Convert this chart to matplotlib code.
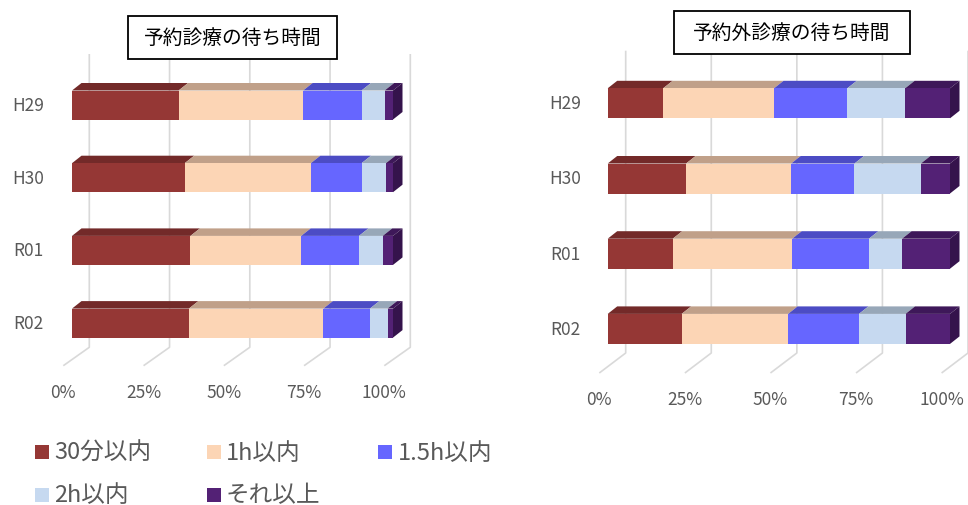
import matplotlib
matplotlib.use('Agg')
import matplotlib.pyplot as plt
from matplotlib.patches import Polygon, Rectangle
import numpy as np

plt.rcParams['font.family'] = ['Noto Sans CJK JP', 'DejaVu Sans']

# ---------------- data ----------------
categories = ['H29', 'H30', 'R01', 'R02']
series_names = ['30分以内', '1h以内', '1.5h以内', '2h以内', 'それ以上']
tick_values = [0, 25, 50, 75, 100]
tick_labels = ['0%', '25%', '50%', '75%', '100%']

# 予約診療 (reserved)
res_30min = [33.2, 35.1, 36.9, 36.4]
res_1h = [38.8, 39.3, 34.5, 41.9]
res_15h = [18.2, 15.8, 18.0, 14.5]
res_2h = [7.2, 7.6, 7.4, 5.5]
res_more = [2.6, 2.2, 3.2, 1.7]

# 予約外診療 (walk-in)
unres_30min = [16.2, 22.9, 19.0, 21.6]
unres_1h = [32.4, 30.7, 34.9, 31.1]
unres_15h = [21.4, 18.5, 22.4, 20.7]
unres_2h = [16.9, 19.4, 9.7, 13.6]
unres_more = [13.1, 8.5, 14.0, 13.0]

title_left = '予約診療の待ち時間'
title_right = '予約外診療の待ち時間'

# ---------------- style ----------------
front_colors = ['#953735', '#FCD5B5', '#6666FF', '#C6D9F0', '#532175']
top_colors = ['#732A29', '#C0A089', '#4C4CC4', '#97A7B8', '#3E1859']
side_color = '#35134C'
grid_color = '#D9D9D9'
text_color = '#595959'

W, H = 968, 506
fig = plt.figure(figsize=(W / 100, H / 100), dpi=100)


def draw_chart(series, ax_px, front0, ppp, yc0, ystep, bar_px, grid_off,
               floor_off, grid_top, grid_vbot, floor_y, label_y, cat_right,
               title, title_box, depth=(9.5, 7.5)):
    x0p, x1p, y0p, y1p = ax_px
    ax = fig.add_axes([x0p / W, 1 - y1p / H, (x1p - x0p) / W, (y1p - y0p) / H])
    ax.set_xlim((x0p - front0) / ppp, (x1p - front0) / ppp)
    ax.set_ylim((y1p - yc0) / ystep, (y0p - yc0) / ystep)
    ax.axis('off')

    def ypx(p):
        return (p - yc0) / ystep

    # gridlines (back wall + floor)
    for v, lab in zip(tick_values, tick_labels):
        xb = v + grid_off / ppp
        xf = v - floor_off / ppp
        ax.plot([xb, xb, xf], [ypx(grid_top), ypx(grid_vbot), ypx(floor_y)],
                color=grid_color, lw=1.2, zorder=1, clip_on=False,
                solid_capstyle='butt')
        ax.text(xf, ypx(label_y), lab, ha='center', va='center',
                fontsize=12.5, color=text_color)

    h = bar_px / ystep
    ddx = depth[0] / ppp
    ddy = depth[1] / ystep
    y = np.arange(len(categories))
    vals = np.array(series, dtype=float)
    vals = vals / vals.sum(axis=0) * 100
    left = np.zeros(len(categories))
    for k in range(len(series)):
        ax.barh(y, vals[k], left=left, height=h, color=front_colors[k],
                linewidth=0, zorder=3)
        for i in range(len(categories)):
            xa, xb_ = left[i], left[i] + vals[k][i]
            yt = y[i] - h / 2
            ax.add_patch(Polygon([(xa, yt), (xb_, yt), (xb_ + ddx, yt - ddy),
                                  (xa + ddx, yt - ddy)], closed=True,
                                 facecolor=top_colors[k], linewidth=0,
                                 zorder=2))
        left = left + vals[k]
    for i in range(len(categories)):
        xe = left[i]
        yt = y[i] - h / 2
        yb = y[i] + h / 2
        ax.add_patch(Polygon([(xe, yt), (xe + ddx, yt - ddy),
                              (xe + ddx, yb - ddy), (xe, yb)], closed=True,
                             facecolor=side_color, linewidth=0, zorder=2))
        ax.text((cat_right - front0) / ppp, y[i], categories[i], ha='right',
                va='center', fontsize=12.5, color=text_color)

    # title box
    bx0, by0, bx1, by1 = title_box
    fig.add_artist(Rectangle((bx0 / W, 1 - by1 / H), (bx1 - bx0) / W,
                             (by1 - by0) / H, transform=fig.transFigure,
                             facecolor='white', edgecolor='black', lw=1.3,
                             zorder=5))
    fig.text((bx0 + bx1) / 2 / W, 1 - (by0 + by1) / 2 / H, title,
             ha='center', va='center', fontsize=14.2, color='black', zorder=6)
    return ax


draw_chart([res_30min, res_1h, res_15h, res_2h, res_more],
           ax_px=(0, 484, 0, 420), front0=72, ppp=3.21, yc0=106, ystep=72.7,
           bar_px=29, grid_off=17.3, floor_off=8.7, grid_top=55,
           grid_vbot=348.3, floor_y=366.7, label_y=392.7, cat_right=44,
           title=title_left, title_box=(128.3, 17.3, 336.7, 60))

draw_chart([unres_30min, unres_1h, unres_15h, unres_2h, unres_more],
           ax_px=(484, 968, 0, 420), front0=607.7, ppp=3.423, yc0=104.3,
           ystep=75.2, bar_px=30, grid_off=18, floor_off=8.4, grid_top=51.7,
           grid_vbot=354, floor_y=374, label_y=400, cat_right=581,
           title=title_right, title_box=(674, 11.7, 910, 55))

# legend
leg_pos = [(35, 453.3), (206.7, 453.3), (378.3, 453.3), (35, 496), (206.7, 496)]
sq = 14
for (lx, ly), name, col in zip(leg_pos, series_names, front_colors):
    fig.add_artist(Rectangle((lx / W, 1 - (ly + sq / 2) / H), sq / W, sq / H,
                             transform=fig.transFigure, facecolor=col,
                             linewidth=0))
    fig.text((lx + 19.3) / W, 1 - ly / H, name, ha='left', va='center',
             fontsize=17, color=text_color)

fig.savefig('out.png', dpi=100)
